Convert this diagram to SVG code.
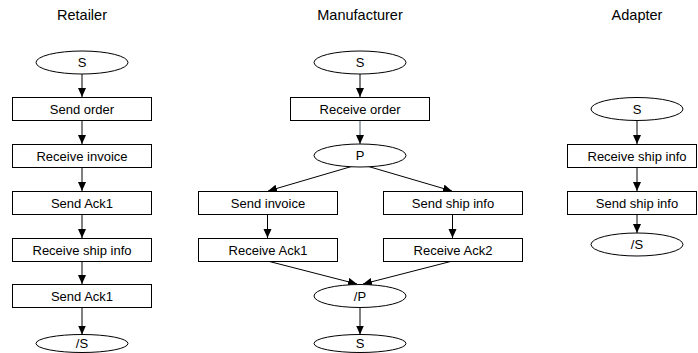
<svg xmlns="http://www.w3.org/2000/svg" width="698" height="353" viewBox="0 0 698 353">
<style>
.box{fill:#fff;stroke:#000;stroke-width:1}
.ell{fill:#fff;stroke:#000;stroke-width:1}
.t{font-family:"Liberation Sans",Arial,sans-serif;font-size:13px;fill:#000;text-anchor:middle}
.title{font-family:"Liberation Sans",Arial,sans-serif;font-size:14.5px;fill:#000;text-anchor:middle}
.c{stroke:#000;stroke-width:1;fill:none;marker-end:url(#ah)}
.cb{stroke:#44546a;stroke-width:1;fill:none;marker-end:url(#ah)}
</style>
<defs>
<marker id="ah" markerUnits="userSpaceOnUse" markerWidth="10" markerHeight="9" refX="9" refY="4" orient="auto">
<path d="M0,0 L9,4 L0,8 z" fill="#000"/>
</marker>
</defs>
<rect width="698" height="353" fill="#fff"/>
<g id="titles">
<text class="title" x="82" y="20">Retailer</text>
<text class="title" x="360" y="20">Manufacturer</text>
<text class="title" x="637" y="20">Adapter</text>
</g>
<g id="connectors">
<line class="c" x1="82" y1="74" x2="82" y2="97"/>
<line class="c" x1="82" y1="121" x2="82" y2="144"/>
<line class="c" x1="82" y1="167" x2="82" y2="191"/>
<line class="c" x1="82" y1="214" x2="82" y2="238"/>
<line class="c" x1="82" y1="261" x2="82" y2="284"/>
<line class="c" x1="82" y1="307" x2="82" y2="334.5"/>
<line class="c" x1="360" y1="74" x2="360" y2="97"/>
<line class="cb" x1="360" y1="121" x2="360" y2="144"/>
<line class="c" x1="360" y1="164" x2="268" y2="191"/>
<line class="c" x1="360" y1="164" x2="452" y2="191"/>
<line class="c" x1="267.5" y1="214" x2="267.5" y2="238"/>
<line class="c" x1="452.5" y1="214" x2="452.5" y2="238"/>
<line class="c" x1="267.5" y1="261" x2="357" y2="284"/>
<line class="c" x1="452.5" y1="261" x2="363" y2="284"/>
<line class="c" x1="360" y1="308" x2="360" y2="334.5"/>
<line class="c" x1="637" y1="120.5" x2="637" y2="144"/>
<line class="c" x1="637" y1="167" x2="637" y2="191"/>
<line class="c" x1="637" y1="214" x2="637" y2="233"/>
</g>
<g id="r-start"><ellipse class="ell" cx="82" cy="62.5" rx="46" ry="11.5"/><text class="t" x="82" y="67">S</text></g>
<g id="r-send-order"><rect class="box" x="12.5" y="97.5" width="139" height="23"/><text class="t" x="82" y="113.5">Send order</text></g>
<g id="r-receive-invoice"><rect class="box" x="12.5" y="144.5" width="139" height="23"/><text class="t" x="82" y="160.5">Receive invoice</text></g>
<g id="r-send-ack1"><rect class="box" x="12.5" y="191.5" width="139" height="23"/><text class="t" x="82" y="207.5">Send Ack1</text></g>
<g id="r-receive-ship"><rect class="box" x="12.5" y="238.5" width="139" height="23"/><text class="t" x="82" y="254.5">Receive ship info</text></g>
<g id="r-send-ack1b"><rect class="box" x="12.5" y="284.5" width="139" height="23"/><text class="t" x="82" y="300.5">Send Ack1</text></g>
<g id="r-end"><ellipse class="ell" cx="82" cy="343.5" rx="46" ry="9"/><text class="t" x="82" y="347.5">/S</text></g>

<g id="m-start"><ellipse class="ell" cx="360" cy="62.5" rx="46" ry="11.5"/><text class="t" x="360" y="67">S</text></g>
<g id="m-receive-order"><rect class="box" x="290.5" y="97.5" width="139" height="23"/><text class="t" x="360" y="113.5">Receive order</text></g>
<g id="m-p"><ellipse class="ell" cx="360" cy="155.5" rx="46" ry="11.5"/><text class="t" x="360" y="160">P</text></g>
<g id="m-send-invoice"><rect class="box" x="198.5" y="191.5" width="139" height="23"/><text class="t" x="268" y="207.5">Send invoice</text></g>
<g id="m-send-ship"><rect class="box" x="383.5" y="191.5" width="139" height="23"/><text class="t" x="453" y="207.5">Send ship info</text></g>
<g id="m-receive-ack1"><rect class="box" x="198.5" y="238.5" width="139" height="23"/><text class="t" x="268" y="254.5">Receive Ack1</text></g>
<g id="m-receive-ack2"><rect class="box" x="383.5" y="238.5" width="139" height="23"/><text class="t" x="453" y="254.5">Receive Ack2</text></g>
<g id="m-endp"><ellipse class="ell" cx="360" cy="296" rx="46" ry="11.5"/><text class="t" x="360" y="300.5">/P</text></g>
<g id="m-end"><ellipse class="ell" cx="360" cy="343.5" rx="46" ry="9"/><text class="t" x="360" y="347.5">S</text></g>

<g id="a-start"><ellipse class="ell" cx="637" cy="109" rx="46" ry="11.5"/><text class="t" x="637" y="113.5">S</text></g>
<g id="a-receive-ship"><rect class="box" x="567.5" y="144.5" width="129" height="23"/><text class="t" x="637" y="160.5">Receive ship info</text></g>
<g id="a-send-ship"><rect class="box" x="567.5" y="191.5" width="129" height="23"/><text class="t" x="637" y="207.5">Send ship info</text></g>
<g id="a-end"><ellipse class="ell" cx="637" cy="244.5" rx="46" ry="11.5"/><text class="t" x="637" y="249">/S</text></g>
</svg>
